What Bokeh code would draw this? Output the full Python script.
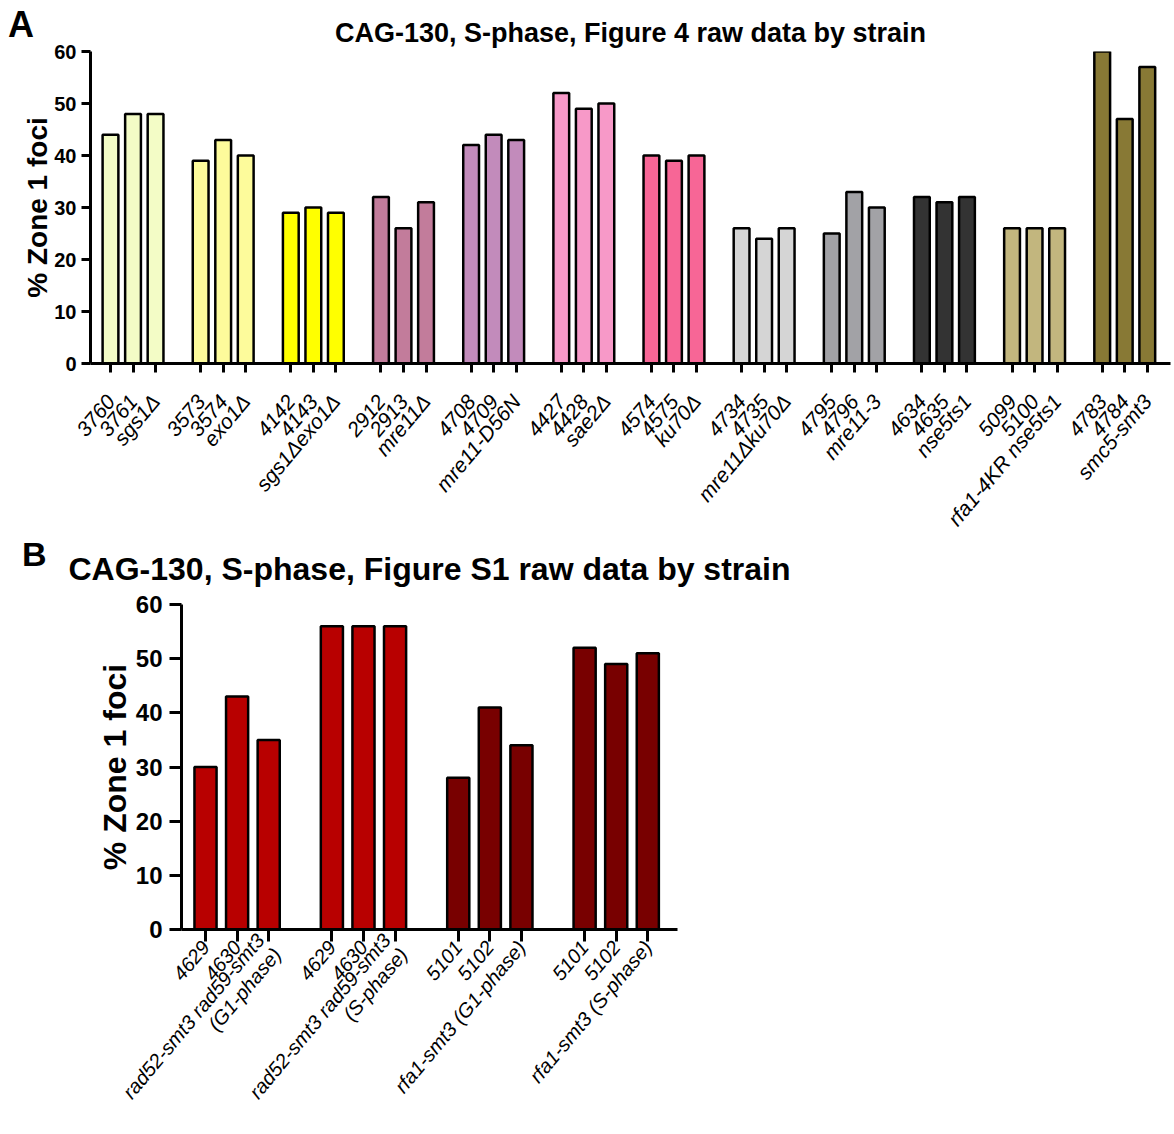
import math
from bokeh.plotting import figure
from bokeh.models import (Range1d, FixedTicker, SingleIntervalTicker, ColumnDataSource,
                          Div, InlineStyleSheet)
from bokeh.embed import file_html
from bokeh.resources import INLINE

# ---------------- Panel A data ----------------
genotypes_a = ["sgs1Δ", "exo1Δ", "sgs1Δexo1Δ", "mre11Δ", "mre11-D56N", "sae2Δ",
               "ku70Δ", "mre11Δku70Δ", "mre11-3", "nse5ts1", "rfa1-4KR nse5ts1", "smc5-smt3"]
strains_a = [["3760", "3761"], ["3573", "3574"], ["4142", "4143"], ["2912", "2913"],
             ["4708", "4709"], ["4427", "4428"], ["4574", "4575"], ["4734", "4735"],
             ["4795", "4796"], ["4634", "4635"], ["5099", "5100"], ["4783", "4784"]]
values_a = [[44, 48, 48], [39, 43, 40], [29, 30, 29], [32, 26, 31], [42, 44, 43], [52, 49, 50],
            [40, 39, 40], [26, 24, 26], [25, 33, 30], [32, 31, 32], [26, 26, 26], [60, 47, 57]]
colors_a = ["#F3FCC6", "#FDFB9B", "#FFFF00", "#C27C9B", "#C28BBB", "#F799C8",
            "#F76696", "#D5D5D5", "#A2A2A6", "#333333", "#C2B67E", "#887935"]

# ---------------- Panel B data ----------------
genotypes_b = ["rad52-smt3 rad59-smt3\n(G1-phase)", "rad52-smt3 rad59-smt3\n(S-phase)",
               "rfa1-smt3 (G1-phase)", "rfa1-smt3 (S-phase)"]
strains_b = [["4629", "4630"], ["4629", "4630"], ["5101", "5102"], ["5101", "5102"]]
values_b = [[30, 43, 35], [56, 56, 56], [28, 41, 34], [52, 49, 51]]
colors_b = ["#B80000", "#B80000", "#780000", "#780000"]

title_a = "CAG-130, S-phase, Figure 4 raw data by strain"
title_b = "CAG-130, S-phase, Figure S1 raw data by strain"
y_label = "% Zone 1 foci"
panel_letters = ["A", "B"]

FONT = "Liberation Sans, Arial, sans-serif"


def build(genos, strains, values, colors):
    xs, tops, fills, overrides = [], [], [], {}
    for g, (geno, st, vals, col) in enumerate(zip(genos, strains, values, colors)):
        names = list(st) + [geno]
        for i, (n, v) in enumerate(zip(names, vals)):
            x = g * 4 + i
            xs.append(x)
            tops.append(v)
            fills.append(col)
            overrides[x] = n
    return ColumnDataSource(dict(x=xs, top=tops, color=fills)), xs, overrides


def style(p, src, xs, overrides, tick_size, xlab_size, ylab_size, standoff,
          tick_len, xlab_standoff, ytick_standoff, line_height=1.2):
    p.vbar(x="x", top="top", width=0.7, fill_color="color", line_color="black",
           line_width=2.5, source=src)
    p.grid.visible = False
    p.outline_line_color = None
    for ax in (p.xaxis[0], p.yaxis[0]):
        ax.axis_line_width = 3
        ax.major_tick_line_width = 3
        ax.major_tick_out = tick_len
        ax.major_tick_in = 0
        ax.minor_tick_line_color = None
        ax.axis_line_color = "black"
        ax.major_tick_line_color = "black"
    p.yaxis.ticker = SingleIntervalTicker(interval=10, num_minor_ticks=0)
    p.yaxis.major_label_text_font = FONT
    p.yaxis.major_label_text_font_style = "bold"
    p.yaxis.major_label_text_font_size = tick_size
    p.yaxis.major_label_text_color = "black"
    p.yaxis.major_label_standoff = ytick_standoff
    p.yaxis.axis_label = y_label
    p.yaxis.axis_label_text_font = FONT
    p.yaxis.axis_label_text_font_style = "bold"
    p.yaxis.axis_label_text_font_size = ylab_size
    p.yaxis.axis_label_text_color = "black"
    p.yaxis.axis_label_standoff = standoff
    p.xaxis.ticker = FixedTicker(ticks=xs)
    p.xaxis.major_label_overrides = overrides
    p.xaxis.major_label_orientation = math.radians(50)
    p.xaxis.major_label_text_font = FONT
    p.xaxis.major_label_text_font_style = "italic"
    p.xaxis.major_label_text_font_size = xlab_size
    p.xaxis.major_label_text_line_height = line_height
    p.xaxis.major_label_text_color = "black"
    p.xaxis.major_label_standoff = xlab_standoff


def place(left, top, extra=""):
    css = (":host { position: absolute !important; left: %dpx !important; "
           "top: %dpx !important; %s }" % (left, top, extra))
    return InlineStyleSheet(css=css)


def letter(text, left, top, size):
    extra = ("font-family: 'Liberation Sans', Arial, sans-serif; font-weight: bold; "
             "font-size: %dpx; line-height: 1.15; color: black; margin: 0; padding: 0;" % size)
    return Div(text=text, stylesheets=[place(left, top, extra)])


# ---------------- Panel A ----------------
HA = 562
src_a, xs_a, ov_a = build(genotypes_a, strains_a, values_a, colors_a)
pa = figure(width=1172, height=HA, x_range=Range1d(-0.887, 47.03), y_range=Range1d(0, 60),
            output_backend="svg", toolbar_location=None,
            min_border_left=90, min_border_right=2, min_border_bottom=HA - 363, min_border_top=51)
style(pa, src_a, xs_a, ov_a, "20px", "21px", "28px", -2, 9, 25, 5)
pa.title.text = title_a
pa.title.align = "center"
pa.title.offset = 12
pa.title.text_font = FONT
pa.title.text_font_size = "27px"
pa.title.text_font_style = "bold"
pa.title.text_color = "black"
pa.title.standoff = 7

# ---------------- Panel B (placed over the lower part of the page) ----------------
TOP_B = 530
HB = 1134 - TOP_B
src_b, xs_b, ov_b = build(genotypes_b, strains_b, values_b, colors_b)
pb = figure(width=820, height=HB, x_range=Range1d(-0.76, 14.94), y_range=Range1d(0, 60),
            output_backend="svg", toolbar_location=None,
            min_border_left=181, min_border_right=143, min_border_bottom=1134 - 932,
            min_border_top=604 - TOP_B,
            background_fill_color=None, border_fill_color=None,
            stylesheets=[place(0, TOP_B)])
style(pb, src_b, xs_b, ov_b, "24px", "20px", "32px", 0, 12, 2, 7, line_height=1.0)
pb.title.text = title_b
pb.title.align = "left"
pb.title.offset = -113
pb.title.text_font = FONT
pb.title.text_font_size = "32px"
pb.title.text_font_style = "bold"
pb.title.text_color = "black"
pb.title.standoff = 36

letter_a = letter(panel_letters[0], 8, 4, 36)
letter_b = letter(panel_letters[1], 22, 535, 34)

open("out.html", "w").write(file_html([pa, pb, letter_a, letter_b], INLINE))
